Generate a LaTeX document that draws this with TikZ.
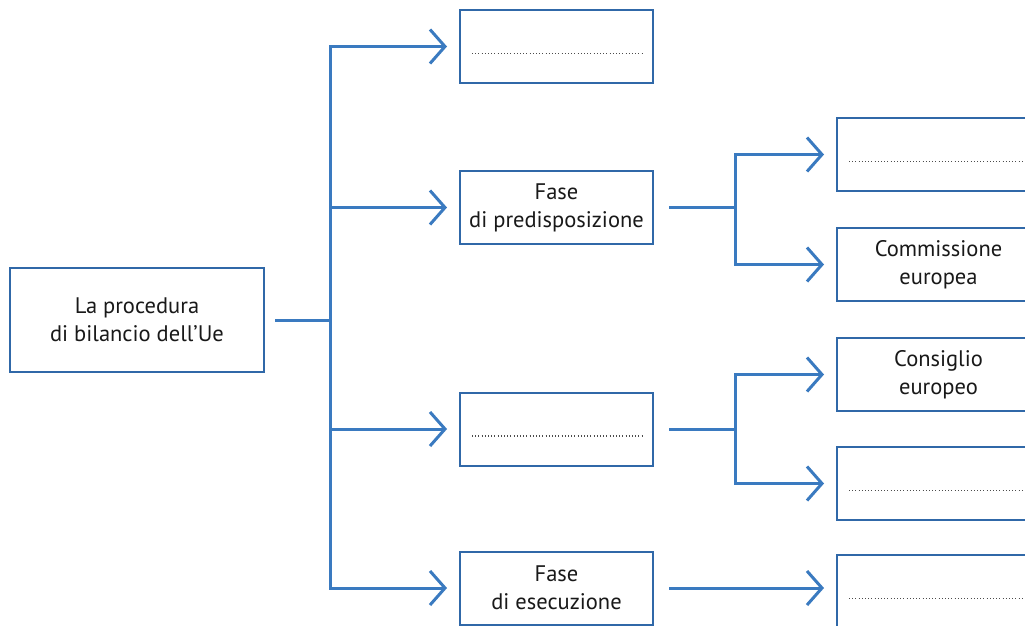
\documentclass[tikz,border=0pt]{standalone}
\usepackage{fontspec}
\setmainfont{PT Sans}
\usetikzlibrary{arrows.meta,calc}
\definecolor{linkblue}{RGB}{58,122,192}
\definecolor{frameblue}{RGB}{48,104,168}
\definecolor{inktext}{RGB}{25,25,25}
\tikzset{
  box/.style={draw=frameblue, line width=2pt, fill=white, inner sep=0pt,
    minimum width=193pt, minimum height=73pt, align=center,
    text=inktext, font=\fontsize{22.5}{28}\selectfont},
  rootbox/.style={box, minimum width=254pt, minimum height=104pt},
  sidebox/.style={box, minimum width=203pt},
  link/.style={draw=linkblue, line width=3pt},
  flow/.style={link, -{Straight Barb[length=15pt,width=34pt,line width=3pt]}, shorten >=12pt},
  blankline/.style={draw=black!70, line width=1.3pt, dash pattern=on 1pt off 2.2pt}
}
\begin{document}
\begin{tikzpicture}[x=1pt,y=-1pt]
\clip (0,0) rectangle (1025,625);
\fill[white] (0,0) rectangle (1025,625);

% first level
\node[rootbox] (root) at (137,320) {La procedura\\di bilancio dell'Ue};
\coordinate (trunk) at (330,320);

% second level
\node[box] (pA) at (556.5,46.5) {};
\node[box] (pB) at (556.5,207.5) {Fase\\di predisposizione};
\node[box] (pC) at (556.5,429) {};
\node[box] (pD) at (556.5,588) {Fase\\di esecuzione};

% third level
\node[sidebox] (rE) at (938.5,154.5) {};
\node[sidebox] (rF) at (938.5,264.5) {Commissione\\europea};
\node[sidebox] (rG) at (938.5,374.5) {Consiglio\\europeo};
\node[sidebox] (rH) at (938.5,483.5) {};
\node[sidebox] (rI) at (938.5,591.5) {};

% blanks to fill in
\foreach \b in {pA,pC} {
  \draw[blankline] ($(\b.west)+(13,7)$) -- ($(\b.east)+(-11,7)$);
}
\foreach \b in {rE,rH,rI} {
  \draw[blankline] ($(\b.west)+(13,7)$) -- ($(\b.east)+(-18,7)$);
}

% main branching
\draw[link] (root.east) ++(10,0) -- (trunk);
\draw[link, line cap=rect] (trunk |- pA.west) -- (trunk |- pD.west);
\foreach \b in {pA,pB,pC,pD} {
  \draw[flow] (trunk |- \b.west) -- (\b.west);
}

% sub-branches
\coordinate (forkB) at (735,207.5);
\coordinate (forkC) at (735,429);
\draw[link] (pB.east) ++(15,0) -- (forkB);
\draw[link, line cap=rect] (forkB |- rE.west) -- (forkB |- rF.west);
\draw[flow] (forkB |- rE.west) -- (rE.west);
\draw[flow] (forkB |- rF.west) -- (rF.west);

\draw[link] (pC.east) ++(15,0) -- (forkC);
\draw[link, line cap=rect] (forkC |- rG.west) -- (forkC |- rH.west);
\draw[flow] (forkC |- rG.west) -- (rG.west);
\draw[flow] (forkC |- rH.west) -- (rH.west);

\draw[flow] (pD.east) ++(15,0) -- (rI.west |- pD.east);
\end{tikzpicture}
\end{document}
